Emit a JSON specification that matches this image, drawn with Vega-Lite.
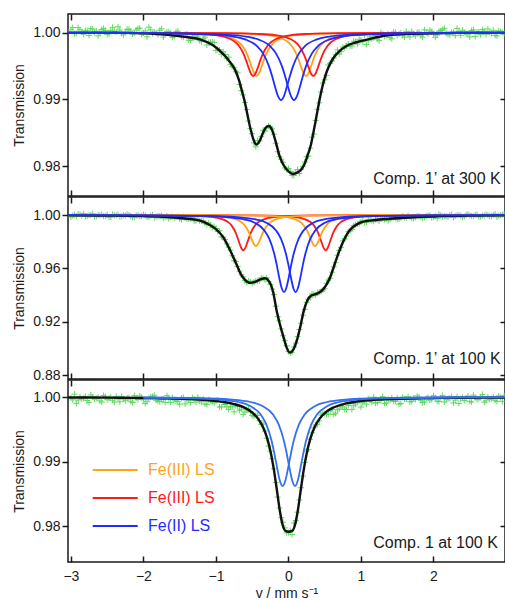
{
"$schema":"https://vega.github.io/schema/vega-lite/v6.json",
"padding":{"left":12,"top":12,"right":0,"bottom":1},
"background":"white",
"config":{
 "font":"Liberation Sans",
 "view":{"stroke":"#1a1a1a","strokeWidth":1.5},
 "axis":{"grid":false,"domain":false,"labelFont":"Liberation Sans","labelFontSize":14,"labelColor":"#1a1a1a","titleFont":"Liberation Sans","titleFontSize":14,"titleFontWeight":"normal","titleColor":"#1a1a1a","tickColor":"#1a1a1a","tickWidth":1.5}
},
"datasets":{
"pts":[
{"x":-3.00,"a":1.00044,"b":0.99852,"c":0.99989},{"x":-2.95,"a":0.99984,"b":1.0002,"c":1.00045},{"x":-2.90,"a":1.00076,"b":1.00068,"c":0.99953},{"x":-2.85,"a":1.00012,"b":0.99956,"c":0.99969},{"x":-2.80,"a":1.00032,"b":0.99906,"c":1.00009},{"x":-2.75,"a":0.9996,"b":0.99986,"c":0.99913},{"x":-2.70,"a":1.00056,"b":1.00098,"c":0.99997},{"x":-2.65,"a":1.00024,"b":0.9989,"c":0.99981},{"x":-2.60,"a":0.99996,"b":0.99978,"c":0.99941},{"x":-2.55,"a":1.00064,"b":0.9992,"c":1.00024},
{"x":-2.50,"a":0.99972,"b":1.00024,"c":0.99958},{"x":-2.45,"a":1.00036,"b":0.99848,"c":0.99998},{"x":-2.40,"a":1.0002,"b":0.99974,"c":0.99922},{"x":-2.35,"a":1.00088,"b":1.00046,"c":0.9997},{"x":-2.30,"a":0.99988,"b":0.99902,"c":1.0001},{"x":-2.25,"a":1.00008,"b":0.9994,"c":0.99942},{"x":-2.20,"a":1.00048,"b":1.00012,"c":0.9999},{"x":-2.15,"a":0.9998,"b":0.99834,"c":0.99914},{"x":-2.10,"a":1.0004,"b":0.99962,"c":0.99982},{"x":-2.05,"a":1.00068,"b":0.99896,"c":1.00018},
{"x":-2.00,"a":0.99994,"b":1.00032,"c":0.99956},{"x":-1.95,"a":0.99938,"b":0.99854,"c":0.99928},{"x":-1.90,"a":1.00042,"b":0.99948,"c":0.99996},{"x":-1.85,"a":1.00008,"b":0.99812,"c":1.00027},{"x":-1.80,"a":0.99972,"b":0.99906,"c":0.99937},{"x":-1.75,"a":1.0006,"b":0.9996,"c":0.99964},{"x":-1.70,"a":0.99986,"b":0.99838,"c":0.99916},{"x":-1.65,"a":1.00014,"b":0.99714,"c":0.99975},{"x":-1.60,"a":0.99928,"b":0.99886,"c":0.99992},{"x":-1.55,"a":1.00016,"b":0.99834,"c":0.99939},
{"x":-1.50,"a":0.99972,"b":0.99708,"c":0.99888},{"x":-1.45,"a":0.9993,"b":0.9987,"c":0.99994},{"x":-1.40,"a":0.9998,"b":0.99714,"c":0.99956},{"x":-1.35,"a":0.99886,"b":0.9974,"c":0.99914},{"x":-1.30,"a":0.9993,"b":0.99556,"c":0.99968},{"x":-1.25,"a":0.99936,"b":0.99674,"c":0.99997},{"x":-1.20,"a":0.99864,"b":0.99558,"c":0.99925},{"x":-1.15,"a":0.99932,"b":0.99392,"c":0.99893},{"x":-1.10,"a":0.99852,"b":0.99388,"c":0.99957},{"x":-1.05,"a":0.99858,"b":0.9906,"c":0.99924},
{"x":-1.00,"a":0.99732,"b":0.98982,"c":0.99943},{"x":-0.95,"a":0.99745,"b":0.98814,"c":0.99846},{"x":-0.90,"a":0.99713,"b":0.9831,"c":0.9992},{"x":-0.85,"a":0.99611,"b":0.97842,"c":0.99847},{"x":-0.80,"a":0.99526,"b":0.97372,"c":0.99856},{"x":-0.75,"a":0.99476,"b":0.9658,"c":0.99771},{"x":-0.70,"a":0.99398,"b":0.96148,"c":0.99852},{"x":-0.65,"a":0.9913,"b":0.95516,"c":0.9981},{"x":-0.60,"a":0.98953,"b":0.95086,"c":0.99768},{"x":-0.55,"a":0.98675,"b":0.95054,"c":0.99814},
{"x":-0.50,"a":0.98484,"b":0.94896,"c":0.99714},{"x":-0.45,"a":0.98288,"b":0.95066,"c":0.99718},{"x":-0.40,"a":0.98379,"b":0.95074,"c":0.99633},{"x":-0.35,"a":0.98536,"b":0.9526,"c":0.99582},{"x":-0.30,"a":0.98572,"b":0.953,"c":0.9936},{"x":-0.25,"a":0.9858,"b":0.94794,"c":0.99162},{"x":-0.20,"a":0.98477,"b":0.9404,"c":0.98888},{"x":-0.15,"a":0.98214,"b":0.92388,"c":0.98449},{"x":-0.10,"a":0.98102,"b":0.91474,"c":0.98129},{"x":-0.05,"a":0.97971,"b":0.90596,"c":0.97971},
{"x":0.00,"a":0.97962,"b":0.89784,"c":0.97899},{"x":0.05,"a":0.97859,"b":0.89728,"c":0.97869},{"x":0.10,"a":0.97908,"b":0.90414,"c":0.98084},{"x":0.15,"a":0.97887,"b":0.91428,"c":0.98404},{"x":0.20,"a":0.97996,"b":0.92502,"c":0.98774},{"x":0.25,"a":0.9814,"b":0.93458,"c":0.99163},{"x":0.30,"a":0.98268,"b":0.93812,"c":0.99345},{"x":0.35,"a":0.98479,"b":0.94062,"c":0.99524},{"x":0.40,"a":0.98851,"b":0.94202,"c":0.99576},{"x":0.45,"a":0.99109,"b":0.94268,"c":0.99721},
{"x":0.50,"a":0.99293,"b":0.94472,"c":0.99743},{"x":0.55,"a":0.99515,"b":0.95138,"c":0.99733},{"x":0.60,"a":0.99574,"b":0.95716,"c":0.99806},{"x":0.65,"a":0.99675,"b":0.96436,"c":0.99748},{"x":0.70,"a":0.99681,"b":0.97348,"c":0.99813},{"x":0.75,"a":0.99784,"b":0.98062,"c":0.99846},{"x":0.80,"a":0.99803,"b":0.98426,"c":0.99806},{"x":0.85,"a":0.99802,"b":0.9882,"c":0.99905},{"x":0.90,"a":0.99873,"b":0.99206,"c":0.99865},{"x":0.95,"a":0.9983,"b":0.9932,"c":0.99919},
{"x":1.00,"a":0.99886,"b":0.99488,"c":0.99844},{"x":1.05,"a":0.99962,"b":0.99428,"c":0.99943},{"x":1.10,"a":0.9988,"b":0.99662,"c":0.99972},{"x":1.15,"a":0.99906,"b":0.99584,"c":0.9992},{"x":1.20,"a":0.99956,"b":0.99654,"c":0.99904},{"x":1.25,"a":0.9988,"b":0.9954,"c":0.99948},{"x":1.30,"a":0.99974,"b":0.99752,"c":1.00007},{"x":1.35,"a":0.99958,"b":0.99708,"c":0.99906},{"x":1.40,"a":0.99928,"b":0.99672,"c":0.99952},{"x":1.45,"a":1.00012,"b":0.99828,"c":0.9993},
{"x":1.50,"a":0.99958,"b":0.99664,"c":0.99984},{"x":1.55,"a":0.99998,"b":0.99812,"c":0.99898},{"x":1.60,"a":0.99932,"b":0.998,"c":0.99968},{"x":1.65,"a":0.9998,"b":0.99946,"c":1.00005},{"x":1.70,"a":1.0002,"b":0.99766,"c":0.99935},{"x":1.75,"a":0.99952,"b":0.99816,"c":0.9996},{"x":1.80,"a":1.0001,"b":0.99906,"c":0.99997},{"x":1.85,"a":0.99934,"b":0.9978,"c":0.99914},{"x":1.90,"a":1.00002,"b":0.9991,"c":0.99979},{"x":1.95,"a":1.00038,"b":0.99976,"c":0.99952},
{"x":2.00,"a":0.99982,"b":0.99858,"c":1.0002},{"x":2.05,"a":0.99964,"b":0.99756,"c":0.99937},{"x":2.10,"a":1.00032,"b":0.99974,"c":0.9999},{"x":2.15,"a":1.00064,"b":0.99926,"c":0.99922},{"x":2.20,"a":0.99976,"b":0.99864,"c":0.99975},{"x":2.25,"a":1.00004,"b":1.0004,"c":1.00008},{"x":2.30,"a":0.99956,"b":0.99922,"c":0.99952},{"x":2.35,"a":1.00016,"b":0.99988,"c":0.99901},{"x":2.40,"a":1.00036,"b":0.99836,"c":0.99998},{"x":2.45,"a":0.99984,"b":1.00022,"c":0.99982},
{"x":2.50,"a":0.99936,"b":0.99974,"c":0.99934},{"x":2.55,"a":1.00044,"b":0.9991,"c":1.0003},{"x":2.60,"a":1.00008,"b":1.0004,"c":0.99963},{"x":2.65,"a":0.99968,"b":0.99872,"c":0.99992},{"x":2.70,"a":1.00024,"b":0.9996,"c":0.9992},{"x":2.75,"a":1.00056,"b":0.99992,"c":1.00004},{"x":2.80,"a":0.99988,"b":0.99898,"c":0.99976},{"x":2.85,"a":0.9996,"b":1.00074,"c":0.99949},{"x":2.90,"a":1.00028,"b":0.99954,"c":1.00017},{"x":2.95,"a":1.0,"b":1.00026,"c":0.99933},
{"x":-2.975,"a":1.00076,"b":0.99964,"c":0.99957},{"x":-2.925,"a":0.99992,"b":0.99908,"c":0.99901},{"x":-2.875,"a":1.00044,"b":1.00044,"c":1.00005},{"x":-2.825,"a":0.99976,"b":1.00103,"c":0.99981},{"x":-2.775,"a":1.00028,"b":0.99922,"c":0.99945},{"x":-2.725,"a":1.0006,"b":0.99978,"c":1.00033},{"x":-2.675,"a":1.00004,"b":0.99882,"c":0.99969},{"x":-2.625,"a":0.99952,"b":1.00002,"c":0.99997},{"x":-2.575,"a":1.00048,"b":1.00037,"c":0.99921},{"x":-2.525,"a":1.00032,"b":0.99928,"c":1.00008},
{"x":-2.475,"a":0.99984,"b":0.99832,"c":0.99982},{"x":-2.425,"a":1.0008,"b":1.00043,"c":0.9995},{"x":-2.375,"a":1.00012,"b":0.99966,"c":1.0001},{"x":-2.325,"a":1.0004,"b":0.99886,"c":0.99926},{"x":-2.275,"a":0.99968,"b":0.99993,"c":0.9997},{"x":-2.225,"a":1.00052,"b":1.00052,"c":0.99986},{"x":-2.175,"a":1.00024,"b":0.99911,"c":0.99934},{"x":-2.125,"a":0.99996,"b":0.9985,"c":1.00022},{"x":-2.075,"a":1.00064,"b":0.99981,"c":0.99962},{"x":-2.025,"a":0.99975,"b":0.9992,"c":0.99995},
{"x":-1.975,"a":1.00026,"b":0.99963,"c":0.999},{"x":-1.925,"a":1.00082,"b":0.99833,"c":0.99983},{"x":-1.875,"a":0.99985,"b":1.00012,"c":1.00006},{"x":-1.825,"a":0.99996,"b":0.99879,"c":0.99949},{"x":-1.775,"a":1.00036,"b":0.99909,"c":0.99928},{"x":-1.725,"a":0.99935,"b":0.99755,"c":0.99967},{"x":-1.675,"a":1.00014,"b":0.99932,"c":1.00022},{"x":-1.625,"a":0.99993,"b":0.99848,"c":0.99917},{"x":-1.575,"a":0.99948,"b":0.99772,"c":0.99959},{"x":-1.525,"a":1.00022,"b":0.99883,"c":0.99933},
{"x":-1.475,"a":0.99943,"b":0.99669,"c":0.99983},{"x":-1.425,"a":0.99973,"b":0.99772,"c":0.99893},{"x":-1.375,"a":0.99887,"b":0.99715,"c":0.99959},{"x":-1.325,"a":0.9993,"b":0.99816,"c":0.99993},{"x":-1.275,"a":0.99965,"b":0.99571,"c":0.99919},{"x":-1.225,"a":0.99882,"b":0.99556,"c":0.99939},{"x":-1.175,"a":0.9991,"b":0.99551,"c":0.99971},{"x":-1.125,"a":0.99814,"b":0.9929,"c":0.99883},{"x":-1.075,"a":0.99857,"b":0.9926,"c":0.99943},{"x":-1.025,"a":0.99853,"b":0.99141,"c":0.9991},
{"x":-0.975,"a":0.99749,"b":0.98778,"c":0.99956},{"x":-0.925,"a":0.99678,"b":0.98366,"c":0.99845},{"x":-0.875,"a":0.99674,"b":0.98164,"c":0.99884},{"x":-0.825,"a":0.99633,"b":0.97591,"c":0.99806},{"x":-0.775,"a":0.99492,"b":0.96944,"c":0.99846},{"x":-0.725,"a":0.99413,"b":0.9652,"c":0.99864},{"x":-0.675,"a":0.99222,"b":0.95792,"c":0.99795},{"x":-0.625,"a":0.99067,"b":0.95373,"c":0.99731},{"x":-0.575,"a":0.98847,"b":0.94946,"c":0.99809},{"x":-0.525,"a":0.98563,"b":0.95007,"c":0.99772},
{"x":-0.475,"a":0.98347,"b":0.94989,"c":0.99701},{"x":-0.425,"a":0.98383,"b":0.9505,"c":0.99715},{"x":-0.375,"a":0.98441,"b":0.95295,"c":0.99576},{"x":-0.325,"a":0.98521,"b":0.95152,"c":0.99473},{"x":-0.275,"a":0.98603,"b":0.95035,"c":0.99239},{"x":-0.225,"a":0.98557,"b":0.94457,"c":0.99043},{"x":-0.175,"a":0.98341,"b":0.93178,"c":0.98676},{"x":-0.125,"a":0.9814,"b":0.92079,"c":0.98279},{"x":-0.075,"a":0.98056,"b":0.90959,"c":0.98058},{"x":-0.025,"a":0.9795,"b":0.90206,"c":0.97893},
{"x":0.025,"a":0.97918,"b":0.89672,"c":0.97929},{"x":0.075,"a":0.97858,"b":0.90115,"c":0.98046},{"x":0.125,"a":0.97947,"b":0.90913,"c":0.98214},{"x":0.175,"a":0.97949,"b":0.91901,"c":0.98594},{"x":0.225,"a":0.98059,"b":0.92936,"c":0.98984},{"x":0.275,"a":0.9815,"b":0.93691,"c":0.99188},{"x":0.325,"a":0.98432,"b":0.94093,"c":0.99445},{"x":0.375,"a":0.98683,"b":0.94,"c":0.99567},{"x":0.425,"a":0.98947,"b":0.94223,"c":0.99631},{"x":0.475,"a":0.99243,"b":0.9441,"c":0.99752},
{"x":0.525,"a":0.99359,"b":0.94889,"c":0.9973},{"x":0.575,"a":0.99537,"b":0.95263,"c":0.99788},{"x":0.625,"a":0.9962,"b":0.96124,"c":0.99731},{"x":0.675,"a":0.99741,"b":0.96996,"c":0.99803},{"x":0.725,"a":0.99716,"b":0.97577,"c":0.99862},{"x":0.775,"a":0.99771,"b":0.982,"c":0.99808},{"x":0.825,"a":0.99831,"b":0.98747,"c":0.99868},{"x":0.875,"a":0.998,"b":0.98929,"c":0.99807},{"x":0.925,"a":0.99865,"b":0.99267,"c":0.99894},{"x":0.975,"a":0.99901,"b":0.99356,"c":0.99948},
{"x":1.025,"a":0.99864,"b":0.99582,"c":0.99908},{"x":1.075,"a":0.99823,"b":0.99469,"c":0.9989},{"x":1.125,"a":0.99937,"b":0.99623,"c":0.99962},{"x":1.175,"a":0.99923,"b":0.99527,"c":0.99998},{"x":1.225,"a":0.99902,"b":0.99661,"c":0.99914},{"x":1.275,"a":1.00005,"b":0.9975,"c":0.99946},{"x":1.325,"a":0.99946,"b":0.99658,"c":0.99901},{"x":1.375,"a":0.99979,"b":0.99574,"c":0.99963},{"x":1.425,"a":0.99908,"b":0.99786,"c":0.99985},{"x":1.475,"a":1.00001,"b":0.99774,"c":0.99935},
{"x":1.525,"a":0.99982,"b":0.99698,"c":0.99889},{"x":1.575,"a":0.99955,"b":0.9991,"c":0.99999},{"x":1.625,"a":1.0002,"b":0.99789,"c":0.99965},{"x":1.675,"a":0.99936,"b":0.9986,"c":0.99926},{"x":1.725,"a":0.9998,"b":0.99731,"c":0.99984},{"x":1.775,"a":1.00001,"b":0.99909,"c":1.00017},{"x":1.825,"a":0.99954,"b":0.99863,"c":0.9995},{"x":1.875,"a":1.00042,"b":0.99817,"c":0.99923},{"x":1.925,"a":0.99982,"b":0.99963,"c":0.99992},{"x":1.975,"a":1.00018,"b":0.99805,"c":0.99964},
{"x":2.025,"a":0.99931,"b":0.99927,"c":0.99989},{"x":2.075,"a":1.0002,"b":1.00049,"c":0.9993},{"x":2.125,"a":1.00044,"b":0.9987,"c":1.00022},{"x":2.175,"a":0.99988,"b":0.99907,"c":0.99959},{"x":2.225,"a":0.99968,"b":0.99992,"c":0.9998},{"x":2.275,"a":1.00008,"b":0.99805,"c":0.99908},{"x":2.325,"a":1.00064,"b":0.99983,"c":1.00005},{"x":2.375,"a":0.9996,"b":0.99956,"c":0.99974},{"x":2.425,"a":1.00004,"b":0.99881,"c":0.99946},{"x":2.475,"a":0.9998,"b":1.00054,"c":1.00014},
{"x":2.525,"a":1.00032,"b":0.99926,"c":0.99922},{"x":2.575,"a":0.99944,"b":1.00011,"c":0.99987},{"x":2.625,"a":1.00012,"b":0.99864,"c":0.99972},{"x":2.675,"a":1.00048,"b":0.9996,"c":1.0004},{"x":2.725,"a":0.99976,"b":1.0004,"c":0.9994},{"x":2.775,"a":1.0,"b":0.99909,"c":0.99961},{"x":2.825,"a":1.00036,"b":1.0001,"c":1.00001},{"x":2.875,"a":0.99952,"b":0.99858,"c":0.99933},{"x":2.925,"a":1.00016,"b":0.99994,"c":0.99993},{"x":2.975,"a":0.99988,"b":1.00066,"c":1.00021}
],
"comp":[
{"p":1,"s":"o1","x":-3.04,"y":0.99999},{"p":1,"s":"o1","x":-2.389,"y":0.99997},{"p":1,"s":"o1","x":-1.609,"y":0.99992},{"p":1,"s":"o1","x":-1.219,"y":0.99982},{"p":1,"s":"o1","x":-0.959,"y":0.99962},{"p":1,"s":"o1","x":-0.829,"y":0.99935},{"p":1,"s":"o1","x":-0.699,"y":0.9987},{"p":1,"s":"o1","x":-0.634,"y":0.998},{"p":1,"s":"o1","x":-0.569,"y":0.99675},{"p":1,"s":"o1","x":-0.537,"y":0.99584},{"p":1,"s":"o1","x":-0.504,"y":0.9948},{"p":1,"s":"o1","x":-0.472,"y":0.99388},{"p":1,"s":"o1","x":-0.439,"y":0.9935},{"p":1,"s":"o1","x":-0.407,"y":0.99388},{"p":1,"s":"o1","x":-0.374,"y":0.9948},{"p":1,"s":"o1","x":-0.342,"y":0.99584},{"p":1,"s":"o1","x":-0.309,"y":0.99675},{"p":1,"s":"o1","x":-0.244,"y":0.998},{"p":1,"s":"o1","x":-0.179,"y":0.9987},{"p":1,"s":"o1","x":-0.049,"y":0.99935},{"p":1,"s":"o1","x":0.081,"y":0.99962},{"p":1,"s":"o1","x":0.341,"y":0.99982},{"p":1,"s":"o1","x":0.731,"y":0.99992},{"p":1,"s":"o1","x":1.511,"y":0.99997},{"p":1,"s":"o1","x":2.986,"y":0.99999},
{"p":1,"s":"o2","x":-3.04,"y":0.99999},{"p":1,"s":"o2","x":-1.709,"y":0.99997},{"p":1,"s":"o2","x":-0.929,"y":0.99992},{"p":1,"s":"o2","x":-0.539,"y":0.99982},{"p":1,"s":"o2","x":-0.279,"y":0.99962},{"p":1,"s":"o2","x":-0.149,"y":0.99935},{"p":1,"s":"o2","x":-0.019,"y":0.9987},{"p":1,"s":"o2","x":0.046,"y":0.998},{"p":1,"s":"o2","x":0.111,"y":0.99675},{"p":1,"s":"o2","x":0.144,"y":0.99584},{"p":1,"s":"o2","x":0.176,"y":0.9948},{"p":1,"s":"o2","x":0.209,"y":0.99388},{"p":1,"s":"o2","x":0.241,"y":0.9935},{"p":1,"s":"o2","x":0.274,"y":0.99388},{"p":1,"s":"o2","x":0.306,"y":0.9948},{"p":1,"s":"o2","x":0.339,"y":0.99584},{"p":1,"s":"o2","x":0.371,"y":0.99675},{"p":1,"s":"o2","x":0.436,"y":0.998},{"p":1,"s":"o2","x":0.501,"y":0.9987},{"p":1,"s":"o2","x":0.631,"y":0.99935},{"p":1,"s":"o2","x":0.761,"y":0.99962},{"p":1,"s":"o2","x":1.021,"y":0.99982},{"p":1,"s":"o2","x":1.411,"y":0.99992},{"p":1,"s":"o2","x":2.191,"y":0.99997},{"p":1,"s":"o2","x":2.986,"y":0.99999},
{"p":1,"s":"r1","x":-3.04,"y":0.99999},{"p":1,"s":"r1","x":-2.436,"y":0.99997},{"p":1,"s":"r1","x":-1.656,"y":0.99992},{"p":1,"s":"r1","x":-1.266,"y":0.99982},{"p":1,"s":"r1","x":-1.006,"y":0.99962},{"p":1,"s":"r1","x":-0.876,"y":0.99935},{"p":1,"s":"r1","x":-0.746,"y":0.9987},{"p":1,"s":"r1","x":-0.681,"y":0.998},{"p":1,"s":"r1","x":-0.616,"y":0.99675},{"p":1,"s":"r1","x":-0.584,"y":0.99584},{"p":1,"s":"r1","x":-0.551,"y":0.9948},{"p":1,"s":"r1","x":-0.519,"y":0.99388},{"p":1,"s":"r1","x":-0.486,"y":0.9935},{"p":1,"s":"r1","x":-0.454,"y":0.99388},{"p":1,"s":"r1","x":-0.421,"y":0.9948},{"p":1,"s":"r1","x":-0.389,"y":0.99584},{"p":1,"s":"r1","x":-0.356,"y":0.99675},{"p":1,"s":"r1","x":-0.291,"y":0.998},{"p":1,"s":"r1","x":-0.226,"y":0.9987},{"p":1,"s":"r1","x":-0.096,"y":0.99935},{"p":1,"s":"r1","x":0.034,"y":0.99962},{"p":1,"s":"r1","x":0.294,"y":0.99982},{"p":1,"s":"r1","x":0.684,"y":0.99992},{"p":1,"s":"r1","x":1.464,"y":0.99997},{"p":1,"s":"r1","x":2.986,"y":0.99999},
{"p":1,"s":"r2","x":-3.04,"y":0.99999},{"p":1,"s":"r2","x":-1.608,"y":0.99997},{"p":1,"s":"r2","x":-0.828,"y":0.99992},{"p":1,"s":"r2","x":-0.438,"y":0.99982},{"p":1,"s":"r2","x":-0.178,"y":0.99962},{"p":1,"s":"r2","x":-0.048,"y":0.99935},{"p":1,"s":"r2","x":0.082,"y":0.9987},{"p":1,"s":"r2","x":0.147,"y":0.998},{"p":1,"s":"r2","x":0.212,"y":0.99675},{"p":1,"s":"r2","x":0.245,"y":0.99584},{"p":1,"s":"r2","x":0.277,"y":0.9948},{"p":1,"s":"r2","x":0.31,"y":0.99388},{"p":1,"s":"r2","x":0.342,"y":0.9935},{"p":1,"s":"r2","x":0.375,"y":0.99388},{"p":1,"s":"r2","x":0.407,"y":0.9948},{"p":1,"s":"r2","x":0.44,"y":0.99584},{"p":1,"s":"r2","x":0.472,"y":0.99675},{"p":1,"s":"r2","x":0.537,"y":0.998},{"p":1,"s":"r2","x":0.602,"y":0.9987},{"p":1,"s":"r2","x":0.732,"y":0.99935},{"p":1,"s":"r2","x":0.862,"y":0.99962},{"p":1,"s":"r2","x":1.122,"y":0.99982},{"p":1,"s":"r2","x":1.512,"y":0.99992},{"p":1,"s":"r2","x":2.292,"y":0.99997},{"p":1,"s":"r2","x":2.986,"y":0.99999},
{"p":1,"s":"b1","x":-3.04,"y":0.99998},{"p":1,"s":"b1","x":-2.578,"y":0.99996},{"p":1,"s":"b1","x":-1.588,"y":0.99988},{"p":1,"s":"b1","x":-1.093,"y":0.99973},{"p":1,"s":"b1","x":-0.763,"y":0.99941},{"p":1,"s":"b1","x":-0.598,"y":0.99899},{"p":1,"s":"b1","x":-0.433,"y":0.99798},{"p":1,"s":"b1","x":-0.351,"y":0.99689},{"p":1,"s":"b1","x":-0.268,"y":0.99495},{"p":1,"s":"b1","x":-0.227,"y":0.99354},{"p":1,"s":"b1","x":-0.186,"y":0.99192},{"p":1,"s":"b1","x":-0.144,"y":0.99049},{"p":1,"s":"b1","x":-0.103,"y":0.9899},{"p":1,"s":"b1","x":-0.062,"y":0.99049},{"p":1,"s":"b1","x":-0.021,"y":0.99192},{"p":1,"s":"b1","x":0.021,"y":0.99354},{"p":1,"s":"b1","x":0.062,"y":0.99495},{"p":1,"s":"b1","x":0.145,"y":0.99689},{"p":1,"s":"b1","x":0.227,"y":0.99798},{"p":1,"s":"b1","x":0.392,"y":0.99899},{"p":1,"s":"b1","x":0.557,"y":0.99941},{"p":1,"s":"b1","x":0.887,"y":0.99973},{"p":1,"s":"b1","x":1.382,"y":0.99988},{"p":1,"s":"b1","x":2.372,"y":0.99996},{"p":1,"s":"b1","x":2.986,"y":0.99998},
{"p":1,"s":"b2","x":-3.04,"y":0.99998},{"p":1,"s":"b2","x":-2.399,"y":0.99996},{"p":1,"s":"b2","x":-1.409,"y":0.99988},{"p":1,"s":"b2","x":-0.914,"y":0.99973},{"p":1,"s":"b2","x":-0.584,"y":0.99941},{"p":1,"s":"b2","x":-0.419,"y":0.99899},{"p":1,"s":"b2","x":-0.254,"y":0.99798},{"p":1,"s":"b2","x":-0.172,"y":0.99689},{"p":1,"s":"b2","x":-0.089,"y":0.99495},{"p":1,"s":"b2","x":-0.048,"y":0.99354},{"p":1,"s":"b2","x":-0.007,"y":0.99192},{"p":1,"s":"b2","x":0.035,"y":0.99049},{"p":1,"s":"b2","x":0.076,"y":0.9899},{"p":1,"s":"b2","x":0.117,"y":0.99049},{"p":1,"s":"b2","x":0.159,"y":0.99192},{"p":1,"s":"b2","x":0.2,"y":0.99354},{"p":1,"s":"b2","x":0.241,"y":0.99495},{"p":1,"s":"b2","x":0.324,"y":0.99689},{"p":1,"s":"b2","x":0.406,"y":0.99798},{"p":1,"s":"b2","x":0.571,"y":0.99899},{"p":1,"s":"b2","x":0.736,"y":0.99941},{"p":1,"s":"b2","x":1.066,"y":0.99973},{"p":1,"s":"b2","x":1.561,"y":0.99988},{"p":1,"s":"b2","x":2.551,"y":0.99996},{"p":1,"s":"b2","x":2.986,"y":0.99998},
{"p":2,"s":"r1","x":-3.04,"y":0.99995},{"p":2,"s":"r1","x":-2.198,"y":0.99988},{"p":2,"s":"r1","x":-1.568,"y":0.99968},{"p":2,"s":"r1","x":-1.253,"y":0.99929},{"p":2,"s":"r1","x":-1.043,"y":0.99845},{"p":2,"s":"r1","x":-0.938,"y":0.99736},{"p":2,"s":"r1","x":-0.833,"y":0.99472},{"p":2,"s":"r1","x":-0.781,"y":0.99188},{"p":2,"s":"r1","x":-0.728,"y":0.9868},{"p":2,"s":"r1","x":-0.702,"y":0.9831},{"p":2,"s":"r1","x":-0.676,"y":0.97888},{"p":2,"s":"r1","x":-0.649,"y":0.97515},{"p":2,"s":"r1","x":-0.623,"y":0.9736},{"p":2,"s":"r1","x":-0.597,"y":0.97515},{"p":2,"s":"r1","x":-0.571,"y":0.97888},{"p":2,"s":"r1","x":-0.544,"y":0.9831},{"p":2,"s":"r1","x":-0.518,"y":0.9868},{"p":2,"s":"r1","x":-0.466,"y":0.99188},{"p":2,"s":"r1","x":-0.413,"y":0.99472},{"p":2,"s":"r1","x":-0.308,"y":0.99736},{"p":2,"s":"r1","x":-0.203,"y":0.99845},{"p":2,"s":"r1","x":0.007,"y":0.99929},{"p":2,"s":"r1","x":0.322,"y":0.99968},{"p":2,"s":"r1","x":0.952,"y":0.99988},{"p":2,"s":"r1","x":2.986,"y":0.99997},
{"p":2,"s":"r2","x":-3.04,"y":0.99997},{"p":2,"s":"r2","x":-1.062,"y":0.99988},{"p":2,"s":"r2","x":-0.432,"y":0.99968},{"p":2,"s":"r2","x":-0.117,"y":0.99929},{"p":2,"s":"r2","x":0.093,"y":0.99845},{"p":2,"s":"r2","x":0.198,"y":0.99736},{"p":2,"s":"r2","x":0.303,"y":0.99472},{"p":2,"s":"r2","x":0.356,"y":0.99188},{"p":2,"s":"r2","x":0.408,"y":0.9868},{"p":2,"s":"r2","x":0.434,"y":0.9831},{"p":2,"s":"r2","x":0.461,"y":0.97888},{"p":2,"s":"r2","x":0.487,"y":0.97515},{"p":2,"s":"r2","x":0.513,"y":0.9736},{"p":2,"s":"r2","x":0.539,"y":0.97515},{"p":2,"s":"r2","x":0.566,"y":0.97888},{"p":2,"s":"r2","x":0.592,"y":0.9831},{"p":2,"s":"r2","x":0.618,"y":0.9868},{"p":2,"s":"r2","x":0.671,"y":0.99188},{"p":2,"s":"r2","x":0.723,"y":0.99472},{"p":2,"s":"r2","x":0.828,"y":0.99736},{"p":2,"s":"r2","x":0.933,"y":0.99845},{"p":2,"s":"r2","x":1.143,"y":0.99929},{"p":2,"s":"r2","x":1.458,"y":0.99968},{"p":2,"s":"r2","x":2.088,"y":0.99988},{"p":2,"s":"r2","x":2.986,"y":0.99995},
{"p":2,"s":"o1","x":-3.04,"y":0.99996},{"p":2,"s":"o1","x":-2.098,"y":0.9999},{"p":2,"s":"o1","x":-1.438,"y":0.99972},{"p":2,"s":"o1","x":-1.108,"y":0.99937},{"p":2,"s":"o1","x":-0.888,"y":0.99864},{"p":2,"s":"o1","x":-0.778,"y":0.99768},{"p":2,"s":"o1","x":-0.668,"y":0.99536},{"p":2,"s":"o1","x":-0.613,"y":0.99286},{"p":2,"s":"o1","x":-0.558,"y":0.9884},{"p":2,"s":"o1","x":-0.531,"y":0.98515},{"p":2,"s":"o1","x":-0.503,"y":0.98144},{"p":2,"s":"o1","x":-0.476,"y":0.97816},{"p":2,"s":"o1","x":-0.448,"y":0.9768},{"p":2,"s":"o1","x":-0.421,"y":0.97816},{"p":2,"s":"o1","x":-0.393,"y":0.98144},{"p":2,"s":"o1","x":-0.366,"y":0.98515},{"p":2,"s":"o1","x":-0.338,"y":0.9884},{"p":2,"s":"o1","x":-0.283,"y":0.99286},{"p":2,"s":"o1","x":-0.228,"y":0.99536},{"p":2,"s":"o1","x":-0.118,"y":0.99768},{"p":2,"s":"o1","x":-0.008,"y":0.99864},{"p":2,"s":"o1","x":0.212,"y":0.99937},{"p":2,"s":"o1","x":0.542,"y":0.99972},{"p":2,"s":"o1","x":1.202,"y":0.9999},{"p":2,"s":"o1","x":2.986,"y":0.99997},
{"p":2,"s":"o2","x":-3.04,"y":0.99997},{"p":2,"s":"o2","x":-1.284,"y":0.9999},{"p":2,"s":"o2","x":-0.624,"y":0.99972},{"p":2,"s":"o2","x":-0.294,"y":0.99937},{"p":2,"s":"o2","x":-0.074,"y":0.99864},{"p":2,"s":"o2","x":0.036,"y":0.99768},{"p":2,"s":"o2","x":0.146,"y":0.99536},{"p":2,"s":"o2","x":0.201,"y":0.99286},{"p":2,"s":"o2","x":0.256,"y":0.9884},{"p":2,"s":"o2","x":0.284,"y":0.98515},{"p":2,"s":"o2","x":0.311,"y":0.98144},{"p":2,"s":"o2","x":0.339,"y":0.97816},{"p":2,"s":"o2","x":0.366,"y":0.9768},{"p":2,"s":"o2","x":0.394,"y":0.97816},{"p":2,"s":"o2","x":0.421,"y":0.98144},{"p":2,"s":"o2","x":0.449,"y":0.98515},{"p":2,"s":"o2","x":0.476,"y":0.9884},{"p":2,"s":"o2","x":0.531,"y":0.99286},{"p":2,"s":"o2","x":0.586,"y":0.99536},{"p":2,"s":"o2","x":0.696,"y":0.99768},{"p":2,"s":"o2","x":0.806,"y":0.99864},{"p":2,"s":"o2","x":1.026,"y":0.99937},{"p":2,"s":"o2","x":1.356,"y":0.99972},{"p":2,"s":"o2","x":2.016,"y":0.9999},{"p":2,"s":"o2","x":2.986,"y":0.99996},
{"p":2,"s":"b1","x":-3.04,"y":0.99988},{"p":2,"s":"b1","x":-2.087,"y":0.99974},{"p":2,"s":"b1","x":-1.277,"y":0.9993},{"p":2,"s":"b1","x":-0.872,"y":0.99844},{"p":2,"s":"b1","x":-0.602,"y":0.99661},{"p":2,"s":"b1","x":-0.467,"y":0.99423},{"p":2,"s":"b1","x":-0.332,"y":0.98846},{"p":2,"s":"b1","x":-0.265,"y":0.98225},{"p":2,"s":"b1","x":-0.197,"y":0.97115},{"p":2,"s":"b1","x":-0.163,"y":0.96307},{"p":2,"s":"b1","x":-0.13,"y":0.95384},{"p":2,"s":"b1","x":-0.096,"y":0.94569},{"p":2,"s":"b1","x":-0.062,"y":0.9423},{"p":2,"s":"b1","x":-0.028,"y":0.94569},{"p":2,"s":"b1","x":0.006,"y":0.95384},{"p":2,"s":"b1","x":0.039,"y":0.96307},{"p":2,"s":"b1","x":0.073,"y":0.97115},{"p":2,"s":"b1","x":0.141,"y":0.98225},{"p":2,"s":"b1","x":0.208,"y":0.98846},{"p":2,"s":"b1","x":0.343,"y":0.99423},{"p":2,"s":"b1","x":0.478,"y":0.99661},{"p":2,"s":"b1","x":0.748,"y":0.99844},{"p":2,"s":"b1","x":1.153,"y":0.9993},{"p":2,"s":"b1","x":1.963,"y":0.99974},{"p":2,"s":"b1","x":2.986,"y":0.99989},
{"p":2,"s":"b2","x":-3.04,"y":0.99988},{"p":2,"s":"b2","x":-1.926,"y":0.99974},{"p":2,"s":"b2","x":-1.116,"y":0.9993},{"p":2,"s":"b2","x":-0.711,"y":0.99844},{"p":2,"s":"b2","x":-0.441,"y":0.99661},{"p":2,"s":"b2","x":-0.306,"y":0.99423},{"p":2,"s":"b2","x":-0.171,"y":0.98846},{"p":2,"s":"b2","x":-0.104,"y":0.98225},{"p":2,"s":"b2","x":-0.036,"y":0.97115},{"p":2,"s":"b2","x":-0.002,"y":0.96307},{"p":2,"s":"b2","x":0.032,"y":0.95384},{"p":2,"s":"b2","x":0.065,"y":0.94569},{"p":2,"s":"b2","x":0.099,"y":0.9423},{"p":2,"s":"b2","x":0.133,"y":0.94569},{"p":2,"s":"b2","x":0.167,"y":0.95384},{"p":2,"s":"b2","x":0.2,"y":0.96307},{"p":2,"s":"b2","x":0.234,"y":0.97115},{"p":2,"s":"b2","x":0.302,"y":0.98225},{"p":2,"s":"b2","x":0.369,"y":0.98846},{"p":2,"s":"b2","x":0.504,"y":0.99423},{"p":2,"s":"b2","x":0.639,"y":0.99661},{"p":2,"s":"b2","x":0.909,"y":0.99844},{"p":2,"s":"b2","x":1.314,"y":0.9993},{"p":2,"s":"b2","x":2.124,"y":0.99974},{"p":2,"s":"b2","x":2.986,"y":0.99989},
{"p":3,"s":"b1","x":-2.0,"y":0.99992},{"p":3,"s":"b1","x":-1.43,"y":0.99983},{"p":3,"s":"b1","x":-0.98,"y":0.99963},{"p":3,"s":"b1","x":-0.68,"y":0.99919},{"p":3,"s":"b1","x":-0.53,"y":0.99862},{"p":3,"s":"b1","x":-0.38,"y":0.99724},{"p":3,"s":"b1","x":-0.305,"y":0.99575},{"p":3,"s":"b1","x":-0.23,"y":0.9931},{"p":3,"s":"b1","x":-0.193,"y":0.99117},{"p":3,"s":"b1","x":-0.155,"y":0.98896},{"p":3,"s":"b1","x":-0.118,"y":0.98701},{"p":3,"s":"b1","x":-0.08,"y":0.9862},{"p":3,"s":"b1","x":-0.043,"y":0.98701},{"p":3,"s":"b1","x":-0.005,"y":0.98896},{"p":3,"s":"b1","x":0.033,"y":0.99117},{"p":3,"s":"b1","x":0.07,"y":0.9931},{"p":3,"s":"b1","x":0.145,"y":0.99575},{"p":3,"s":"b1","x":0.22,"y":0.99724},{"p":3,"s":"b1","x":0.37,"y":0.99862},{"p":3,"s":"b1","x":0.52,"y":0.99919},{"p":3,"s":"b1","x":0.82,"y":0.99963},{"p":3,"s":"b1","x":1.27,"y":0.99983},{"p":3,"s":"b1","x":2.17,"y":0.99994},{"p":3,"s":"b1","x":2.986,"y":0.99997},
{"p":3,"s":"b2","x":-2.0,"y":0.99993},{"p":3,"s":"b2","x":-1.26,"y":0.99983},{"p":3,"s":"b2","x":-0.81,"y":0.99963},{"p":3,"s":"b2","x":-0.51,"y":0.99919},{"p":3,"s":"b2","x":-0.36,"y":0.99862},{"p":3,"s":"b2","x":-0.21,"y":0.99724},{"p":3,"s":"b2","x":-0.135,"y":0.99575},{"p":3,"s":"b2","x":-0.06,"y":0.9931},{"p":3,"s":"b2","x":-0.023,"y":0.99117},{"p":3,"s":"b2","x":0.015,"y":0.98896},{"p":3,"s":"b2","x":0.053,"y":0.98701},{"p":3,"s":"b2","x":0.09,"y":0.9862},{"p":3,"s":"b2","x":0.128,"y":0.98701},{"p":3,"s":"b2","x":0.165,"y":0.98896},{"p":3,"s":"b2","x":0.203,"y":0.99117},{"p":3,"s":"b2","x":0.24,"y":0.9931},{"p":3,"s":"b2","x":0.315,"y":0.99575},{"p":3,"s":"b2","x":0.39,"y":0.99724},{"p":3,"s":"b2","x":0.54,"y":0.99862},{"p":3,"s":"b2","x":0.69,"y":0.99919},{"p":3,"s":"b2","x":0.99,"y":0.99963},{"p":3,"s":"b2","x":1.44,"y":0.99983},{"p":3,"s":"b2","x":2.34,"y":0.99994},{"p":3,"s":"b2","x":2.986,"y":0.99997}
],
"fit":[
{"p":1,"x":-3.04,"y":1.0},{"p":1,"x":-2.5,"y":1.0},{"p":1,"x":-2.0,"y":0.9999},{"p":1,"x":-1.7,"y":0.9997},{"p":1,"x":-1.45,"y":0.9994},{"p":1,"x":-1.22,"y":0.999},{"p":1,"x":-1.04,"y":0.9981},{"p":1,"x":-0.92,"y":0.997},{"p":1,"x":-0.82,"y":0.9958},{"p":1,"x":-0.74,"y":0.9945},{"p":1,"x":-0.68,"y":0.9928},{"p":1,"x":-0.64,"y":0.9912},{"p":1,"x":-0.6,"y":0.9895},{"p":1,"x":-0.56,"y":0.9874},{"p":1,"x":-0.52,"y":0.9854},{"p":1,"x":-0.48,"y":0.9839},{"p":1,"x":-0.44,"y":0.9832},{"p":1,"x":-0.4,"y":0.9837},{"p":1,"x":-0.35,"y":0.985},{"p":1,"x":-0.31,"y":0.9858},{"p":1,"x":-0.27,"y":0.986},{"p":1,"x":-0.23,"y":0.9855},{"p":1,"x":-0.18,"y":0.9838},{"p":1,"x":-0.12,"y":0.9814},{"p":1,"x":-0.06,"y":0.98},{"p":1,"x":0.0,"y":0.9792},{"p":1,"x":0.06,"y":0.9788},{"p":1,"x":0.12,"y":0.979},{"p":1,"x":0.18,"y":0.9795},{"p":1,"x":0.23,"y":0.9805},{"p":1,"x":0.27,"y":0.9818},{"p":1,"x":0.31,"y":0.9832},{"p":1,"x":0.34,"y":0.9848},{"p":1,"x":0.37,"y":0.9865},{"p":1,"x":0.4,"y":0.9883},{"p":1,"x":0.43,"y":0.99},{"p":1,"x":0.47,"y":0.992},{"p":1,"x":0.51,"y":0.9936},{"p":1,"x":0.56,"y":0.995},{"p":1,"x":0.62,"y":0.9962},{"p":1,"x":0.7,"y":0.9972},{"p":1,"x":0.8,"y":0.998},{"p":1,"x":0.95,"y":0.9986},{"p":1,"x":1.1,"y":0.999},{"p":1,"x":1.3,"y":0.9995},{"p":1,"x":1.6,"y":0.9998},{"p":1,"x":2.0,"y":0.9999},{"p":1,"x":2.5,"y":1.0},{"p":1,"x":2.986,"y":1.0},
{"p":2,"x":-3.04,"y":0.9998},{"p":2,"x":-2.5,"y":0.9996},{"p":2,"x":-2.0,"y":0.9992},{"p":2,"x":-1.7,"y":0.9987},{"p":2,"x":-1.5,"y":0.9978},{"p":2,"x":-1.35,"y":0.997},{"p":2,"x":-1.22,"y":0.9958},{"p":2,"x":-1.1,"y":0.993},{"p":2,"x":-1.0,"y":0.9895},{"p":2,"x":-0.9,"y":0.9835},{"p":2,"x":-0.8,"y":0.973},{"p":2,"x":-0.72,"y":0.9635},{"p":2,"x":-0.66,"y":0.956},{"p":2,"x":-0.6,"y":0.9515},{"p":2,"x":-0.53,"y":0.9492},{"p":2,"x":-0.46,"y":0.95},{"p":2,"x":-0.38,"y":0.952},{"p":2,"x":-0.32,"y":0.9527},{"p":2,"x":-0.27,"y":0.9505},{"p":2,"x":-0.24,"y":0.9475},{"p":2,"x":-0.21,"y":0.942},{"p":2,"x":-0.16,"y":0.9275},{"p":2,"x":-0.11,"y":0.9165},{"p":2,"x":-0.07,"y":0.909},{"p":2,"x":-0.03,"y":0.9015},{"p":2,"x":0.02,"y":0.897},{"p":2,"x":0.07,"y":0.8995},{"p":2,"x":0.11,"y":0.905},{"p":2,"x":0.16,"y":0.9155},{"p":2,"x":0.21,"y":0.928},{"p":2,"x":0.26,"y":0.936},{"p":2,"x":0.31,"y":0.9395},{"p":2,"x":0.36,"y":0.9405},{"p":2,"x":0.42,"y":0.9418},{"p":2,"x":0.48,"y":0.9445},{"p":2,"x":0.53,"y":0.9485},{"p":2,"x":0.58,"y":0.954},{"p":2,"x":0.63,"y":0.962},{"p":2,"x":0.68,"y":0.97},{"p":2,"x":0.73,"y":0.977},{"p":2,"x":0.78,"y":0.983},{"p":2,"x":0.85,"y":0.989},{"p":2,"x":0.92,"y":0.9922},{"p":2,"x":1.0,"y":0.9944},{"p":2,"x":1.15,"y":0.996},{"p":2,"x":1.3,"y":0.9968},{"p":2,"x":1.6,"y":0.998},{"p":2,"x":2.0,"y":0.9989},{"p":2,"x":2.5,"y":0.9995},{"p":2,"x":2.986,"y":0.9997},
{"p":3,"x":-3.04,"y":0.99993},{"p":3,"x":-2.5,"y":0.9999},{"p":3,"x":-2.0,"y":0.99984},{"p":3,"x":-1.6,"y":0.99976},{"p":3,"x":-1.3,"y":0.99964},{"p":3,"x":-1.1,"y":0.99949},{"p":3,"x":-0.9,"y":0.99924},{"p":3,"x":-0.75,"y":0.99891},{"p":3,"x":-0.6,"y":0.99832},{"p":3,"x":-0.5,"y":0.9976},{"p":3,"x":-0.42,"y":0.99665},{"p":3,"x":-0.35,"y":0.99531},{"p":3,"x":-0.29,"y":0.99348},{"p":3,"x":-0.24,"y":0.99118},{"p":3,"x":-0.2,"y":0.98867},{"p":3,"x":-0.16,"y":0.9856},{"p":3,"x":-0.12,"y":0.98245},{"p":3,"x":-0.08,"y":0.98016},{"p":3,"x":-0.04,"y":0.97924},{"p":3,"x":0.005,"y":0.97911},{"p":3,"x":0.05,"y":0.97924},{"p":3,"x":0.09,"y":0.98016},{"p":3,"x":0.13,"y":0.98245},{"p":3,"x":0.17,"y":0.9856},{"p":3,"x":0.21,"y":0.98867},{"p":3,"x":0.25,"y":0.99118},{"p":3,"x":0.3,"y":0.99348},{"p":3,"x":0.36,"y":0.99531},{"p":3,"x":0.43,"y":0.99665},{"p":3,"x":0.52,"y":0.99769},{"p":3,"x":0.62,"y":0.99837},{"p":3,"x":0.78,"y":0.99897},{"p":3,"x":0.93,"y":0.99928},{"p":3,"x":1.13,"y":0.99951},{"p":3,"x":1.43,"y":0.99969},{"p":3,"x":1.8,"y":0.99981},{"p":3,"x":2.3,"y":0.99988},{"p":3,"x":2.986,"y":0.99993}
]
},
"spacing":1,
"bounds":"flush",
"resolve":{"scale":{"color":"independent"}},
"vconcat":[
{
 "width":437,"height":182,
 "layer":[
  {"data":{"name":"pts"},
   "mark":{"type":"point","shape":"M-1,0H1M0,-1V1","size":36,"filled":false,"strokeWidth":1,"color":"#4fd84f","opacity":0.9},
   "encoding":{
    "x":{"field":"x","type":"quantitative","scale":{"domain":[-3.04,2.986],"nice":false,"zero":false},"axis":{"values":[-3,-2,-1,0,1,2,3],"labels":false,"title":null,"tickSize":-6}},
    "y":{"field":"a","type":"quantitative","scale":{"domain":[0.9755,1.0028],"nice":false,"zero":false},"axis":{"values":[0.98,0.99,1.0],"format":".2f","title":"Transmission","tickSize":6,"labelPadding":2,"titlePadding":6}}}},
  {"data":{"name":"fit"},"transform":[{"filter":"datum.p==1"}],
   "mark":{"type":"line","color":"#111111","strokeWidth":2.4,"interpolate":"monotone"},
   "encoding":{
    "x":{"field":"x","type":"quantitative","axis":{"orient":"top","values":[-3,-2,-1,0,1,2,3],"labels":false,"title":null,"tickSize":-6}},
    "y":{"field":"y","type":"quantitative","axis":{"orient":"right","values":[0.98,0.99,1.0],"labels":false,"title":null,"tickSize":-5}}}},
  {"data":{"name":"comp"},"transform":[{"filter":"datum.p==1"}],
   "mark":{"type":"line","strokeWidth":1.8,"interpolate":"monotone"},
   "encoding":{
    "x":{"field":"x","type":"quantitative","axis":null},
    "y":{"field":"y","type":"quantitative","axis":null},
    "color":{"field":"s","type":"nominal","scale":{"domain":["o1","o2","r1","r2","b1","b2"],"range":["#ffa31a","#ffa31a","#ff1a1a","#ff1a1a","#1e2cff","#1e2cff"]},"legend":null}}},
  {"data":{"values":[{}]},
   "mark":{"type":"text","align":"left","baseline":"alphabetic","fontSize":16,"color":"#1a1a1a","font":"Liberation Sans"},
   "encoding":{"x":{"datum":1.17,"type":"quantitative","axis":null},"y":{"datum":0.9773,"type":"quantitative","axis":null},"text":{"value":"Comp. 1’ at 300 K"}}}
 ],
 "resolve":{"axis":{"x":"independent","y":"independent"}}
},
{
 "width":437,"height":182,
 "layer":[
  {"data":{"name":"pts"},
   "mark":{"type":"point","shape":"M-1,0H1M0,-1V1","size":36,"filled":false,"strokeWidth":1,"color":"#4fd84f","opacity":0.9},
   "encoding":{
    "x":{"field":"x","type":"quantitative","scale":{"domain":[-3.04,2.986],"nice":false,"zero":false},"axis":{"values":[-3,-2,-1,0,1,2,3],"labels":false,"title":null,"tickSize":-6}},
    "y":{"field":"b","type":"quantitative","scale":{"domain":[0.87723,1.01348],"nice":false,"zero":false},"axis":{"values":[0.88,0.92,0.96,1.0],"format":".2f","title":"Transmission","tickSize":6,"labelPadding":2,"titlePadding":6}}}},
  {"data":{"name":"fit"},"transform":[{"filter":"datum.p==2"}],
   "mark":{"type":"line","color":"#111111","strokeWidth":2.4,"interpolate":"monotone"},
   "encoding":{
    "x":{"field":"x","type":"quantitative","axis":{"orient":"top","values":[-3,-2,-1,0,1,2,3],"labels":false,"title":null,"tickSize":-6}},
    "y":{"field":"y","type":"quantitative","axis":{"orient":"right","values":[0.88,0.92,0.96,1.0],"labels":false,"title":null,"tickSize":-5}}}},
  {"data":{"name":"comp"},"transform":[{"filter":"datum.p==2"}],
   "mark":{"type":"line","strokeWidth":1.8,"interpolate":"monotone"},
   "encoding":{
    "x":{"field":"x","type":"quantitative","axis":null},
    "y":{"field":"y","type":"quantitative","axis":null},
    "color":{"field":"s","type":"nominal","scale":{"domain":["o1","o2","r1","r2","b1","b2"],"range":["#ffa31a","#ffa31a","#ff1a1a","#ff1a1a","#1e2cff","#1e2cff"]},"legend":null}}},
  {"data":{"values":[{}]},
   "mark":{"type":"text","align":"left","baseline":"alphabetic","fontSize":16,"color":"#1a1a1a","font":"Liberation Sans"},
   "encoding":{"x":{"datum":1.17,"type":"quantitative","axis":null},"y":{"datum":0.88846,"type":"quantitative","axis":null},"text":{"value":"Comp. 1’ at 100 K"}}}
 ],
 "resolve":{"axis":{"x":"independent","y":"independent"}}
},
{
 "width":437,"height":182,
 "layer":[
  {"data":{"name":"pts"},
   "mark":{"type":"point","shape":"M-1,0H1M0,-1V1","size":36,"filled":false,"strokeWidth":1,"color":"#4fd84f","opacity":0.9},
   "encoding":{
    "x":{"field":"x","type":"quantitative","scale":{"domain":[-3.04,2.986],"nice":false,"zero":false},"axis":{"values":[-3,-2,-1,0,1,2,3],"title":"v / mm s⁻¹","tickSize":-6,"labelPadding":13,"titlePadding":3}},
    "y":{"field":"c","type":"quantitative","scale":{"domain":[0.97442,1.00264],"nice":false,"zero":false},"axis":{"values":[0.98,0.99,1.0],"format":".2f","title":"Transmission","tickSize":6,"labelPadding":2,"titlePadding":6}}}},
  {"data":{"name":"fit"},"transform":[{"filter":"datum.p==3"}],
   "mark":{"type":"line","color":"#111111","strokeWidth":2.4,"interpolate":"monotone"},
   "encoding":{
    "x":{"field":"x","type":"quantitative","axis":{"orient":"top","values":[-3,-2,-1,0,1,2,3],"labels":false,"title":null,"tickSize":-6}},
    "y":{"field":"y","type":"quantitative","axis":{"orient":"right","values":[0.98,0.99,1.0],"labels":false,"title":null,"tickSize":-5}}}},
  {"data":{"name":"comp"},"transform":[{"filter":"datum.p==3"}],
   "mark":{"type":"line","strokeWidth":1.8,"interpolate":"monotone","color":"#3470f0"},
   "encoding":{
    "x":{"field":"x","type":"quantitative","axis":null},
    "y":{"field":"y","type":"quantitative","axis":null},
    "detail":{"field":"s","type":"nominal"}}},
  {"data":{"values":[{}]},
   "mark":{"type":"rule","color":"#ffa31a","strokeWidth":2},
   "encoding":{"x":{"datum":-2.699,"type":"quantitative","axis":null},"x2":{"datum":-2.079},"y":{"datum":0.98869,"type":"quantitative","axis":null}}},
  {"data":{"values":[{}]},
   "mark":{"type":"rule","color":"#ff1a1a","strokeWidth":2},
   "encoding":{"x":{"datum":-2.699,"type":"quantitative","axis":null},"x2":{"datum":-2.079},"y":{"datum":0.98435,"type":"quantitative","axis":null}}},
  {"data":{"values":[{}]},
   "mark":{"type":"rule","color":"#1e2cff","strokeWidth":2},
   "encoding":{"x":{"datum":-2.699,"type":"quantitative","axis":null},"x2":{"datum":-2.079},"y":{"datum":0.98,"type":"quantitative","axis":null}}},
  {"data":{"values":[{}]},
   "mark":{"type":"text","align":"left","baseline":"middle","fontSize":16,"color":"#ffa31a","font":"Liberation Sans"},
   "encoding":{"x":{"datum":-1.937,"type":"quantitative","axis":null},"y":{"datum":0.98869,"type":"quantitative","axis":null},"text":{"value":"Fe(III) LS"}}},
  {"data":{"values":[{}]},
   "mark":{"type":"text","align":"left","baseline":"middle","fontSize":16,"color":"#ff1a1a","font":"Liberation Sans"},
   "encoding":{"x":{"datum":-1.937,"type":"quantitative","axis":null},"y":{"datum":0.98435,"type":"quantitative","axis":null},"text":{"value":"Fe(III) LS"}}},
  {"data":{"values":[{}]},
   "mark":{"type":"text","align":"left","baseline":"middle","fontSize":16,"color":"#1e2cff","font":"Liberation Sans"},
   "encoding":{"x":{"datum":-1.937,"type":"quantitative","axis":null},"y":{"datum":0.98,"type":"quantitative","axis":null},"text":{"value":"Fe(II) LS"}}},
  {"data":{"values":[{}]},
   "mark":{"type":"text","align":"left","baseline":"alphabetic","fontSize":16,"color":"#1a1a1a","font":"Liberation Sans"},
   "encoding":{"x":{"datum":1.17,"type":"quantitative","axis":null},"y":{"datum":0.97659,"type":"quantitative","axis":null},"text":{"value":"Comp. 1 at 100 K"}}}
 ],
 "resolve":{"axis":{"x":"independent","y":"independent"}}
}
]
}
